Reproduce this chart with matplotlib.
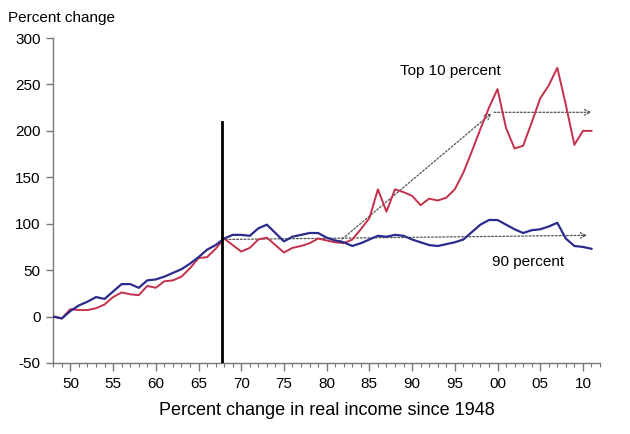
import numpy as np
import matplotlib
matplotlib.use('Agg')
import matplotlib.pyplot as plt
from matplotlib.ticker import MultipleLocator, FuncFormatter

plt.rcParams['font.family'] = ['Liberation Sans', 'DejaVu Sans']
plt.rcParams['axes.unicode_minus'] = False

# data, 1948 to 2011
years = np.arange(1948, 2012)

top10 = [0, -2, 8, 7, 7, 9, 13, 21, 26, 24, 23, 33, 31, 38, 39, 43,
         52, 63, 64, 73, 84, 77, 70, 74, 83, 85, 77, 69, 74, 76, 79, 84,
         82, 80, 79, 83, 94, 106, 137, 113, 137, 134, 130, 120, 127, 125,
         128, 137, 155, 178, 202, 225, 245, 203, 181, 184, 209, 235, 249,
         268, 228, 185, 200, 200]

pct90 = [0, -2, 6, 12, 16, 21, 19, 27, 35, 35, 31, 39, 40, 43, 47, 51,
         57, 64, 72, 77, 84, 88, 88, 87, 95, 99, 90, 81, 86, 88, 90, 90,
         85, 82, 80, 76, 79, 83, 87, 86, 88, 87, 83, 80, 77, 76, 78, 80,
         83, 91, 99, 104, 104, 99, 94, 90, 93, 94, 97, 101, 84, 76, 75, 73]

marker_year = 1967.7
marker_top = 210

# dotted trend arrows
flat_start = (1967.7, 83)
flat_end = (2010.5, 87.5)
rise_start = (1981.5, 81)
rise_end = (1999.3, 219)
high_start = (1999.6, 220)
high_end = (2011.0, 220)

fig = plt.figure(figsize=(6.3, 4.34), dpi=100)
ax = fig.add_axes([0.0846, 0.1636, 0.8678, 0.7488])

red = '#c4304a'
blue = '#2b2b8c'

ax.plot(years, top10, color=red, lw=1.4, zorder=3)
ax.plot(years, pct90, color=blue, lw=1.6, zorder=3)

ax.plot([marker_year, marker_year], [-50, marker_top], color='black', lw=2.0, zorder=4)

arrow_style = dict(arrowstyle='->', color='#555555', lw=0.9, linestyle=(0, (1.5, 1.5)),
                   shrinkA=0, shrinkB=0)
for a, b in [(flat_start, flat_end), (rise_start, rise_end), (high_start, high_end)]:
    ax.annotate('', xy=b, xytext=a, arrowprops=arrow_style, zorder=2)

ax.text(1988.6, 265, 'Top 10 percent', fontsize=11, ha='left', va='center')
ax.text(2003.6, 59, '90 percent', fontsize=11, ha='center', va='center')

ax.set_xlim(1948, 2012)
ax.set_ylim(-50, 300)
ax.yaxis.set_major_locator(MultipleLocator(50))
ax.xaxis.set_major_locator(MultipleLocator(5))
ax.xaxis.set_minor_locator(MultipleLocator(1))
ax.xaxis.set_major_formatter(FuncFormatter(lambda v, p: '%02d' % (int(round(v)) % 100)))

for s in ['top', 'right']:
    ax.spines[s].set_visible(False)
for s in ['left', 'bottom']:
    ax.spines[s].set_color('#777777')
    ax.spines[s].set_linewidth(1.0)

ax.tick_params(axis='both', which='major', labelsize=11, color='#777777', width=1.0)
ax.tick_params(axis='x', which='major', length=6, pad=4)
ax.tick_params(axis='x', which='minor', length=3, color='#777777', width=0.8)
ax.tick_params(axis='y', which='major', length=5, pad=4)

fig.text(0.013, 0.958, 'Percent change', fontsize=11, ha='left', va='center')
ax.set_xlabel('Percent change in real income since 1948', fontsize=13, labelpad=8)

fig.savefig('out.png', dpi=100)
